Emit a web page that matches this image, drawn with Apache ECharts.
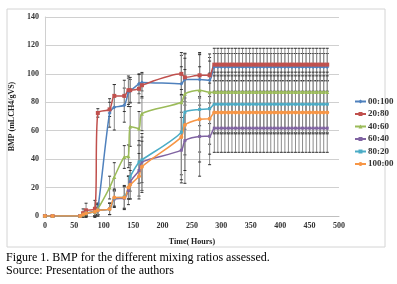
<!DOCTYPE html>
<html>
<head>
<meta charset="utf-8">
<script src="https://cdn.jsdelivr.net/npm/echarts@6/dist/echarts.min.js"></script>
<style>
html, body { margin: 0; padding: 0; background: #fff; }
#bmp_chart { width: 397px; height: 284px; }
</style>
</head>
<body>
<div id="bmp_chart"></div>
<script>
// Measurement times (hours)
var hours = [0, 13, 60, 65, 70, 85, 90, 110, 118, 135, 142, 145, 160, 165, 232, 238, 263, 280,
    288, 294, 300, 306, 312, 318, 324, 330, 336, 342, 348, 354, 360, 366, 372, 378, 384, 390,
    396, 402, 408, 414, 420, 426, 432, 438, 444, 450, 456, 462, 468, 474, 480];

var ratios = ['00:100', '20:80', '40:60', '60:40', '80:20', '100:00'];

// BMP (mL CH4 / g VS)
var bmp_00_100 = [0, 0, 0, 1, 2, 3, 5, 72.5, 76.5, 78, 87, 88, 93, 94, 93, 96, 96, 95.5,
    104.8, 104.8, 104.8, 104.8, 104.8, 104.8, 104.8, 104.8, 104.8, 104.8, 104.8, 104.8, 104.8, 104.8, 104.8, 104.8, 104.8,
    104.8, 104.8, 104.8, 104.8, 104.8, 104.8, 104.8, 104.8, 104.8, 104.8, 104.8, 104.8, 104.8, 104.8, 104.8, 104.8];
var bmp_20_80 = [0, 0, 0, 2, 4, 5, 72.5, 75, 84.5, 84.5, 88.5, 88.5, 89.5, 92, 100, 97.5, 99, 99,
    106.5, 106.5, 106.5, 106.5, 106.5, 106.5, 106.5, 106.5, 106.5, 106.5, 106.5, 106.5, 106.5, 106.5, 106.5, 106.5, 106.5,
    106.5, 106.5, 106.5, 106.5, 106.5, 106.5, 106.5, 106.5, 106.5, 106.5, 106.5, 106.5, 106.5, 106.5, 106.5, 106.5];
var bmp_40_60 = [0, 0, 0, 1, 2, 3, 5, 20, 27.5, 41.5, 42, 63, 61.5, 72, 80, 86, 88.5, 87,
    87.2, 87.2, 87.2, 87.2, 87.2, 87.2, 87.2, 87.2, 87.2, 87.2, 87.2, 87.2, 87.2, 87.2, 87.2, 87.2, 87.2,
    87.2, 87.2, 87.2, 87.2, 87.2, 87.2, 87.2, 87.2, 87.2, 87.2, 87.2, 87.2, 87.2, 87.2, 87.2, 87.2];
var bmp_60_40 = [0, 0, 0, 1, 2, 3, 4, 5, 12, 12.5, 18, 24, 32, 38, 46.3, 53, 56, 56.1,
    61.8, 61.8, 61.8, 61.8, 61.8, 61.8, 61.8, 61.8, 61.8, 61.8, 61.8, 61.8, 61.8, 61.8, 61.8, 61.8, 61.8,
    61.8, 61.8, 61.8, 61.8, 61.8, 61.8, 61.8, 61.8, 61.8, 61.8, 61.8, 61.8, 61.8, 61.8, 61.8, 61.8];
var bmp_80_20 = [0, 0, 0, 1, 2, 3, 4, 5, 12.5, 13.5, 20, 27.5, 38, 39.5, 59, 73, 75, 75.5,
    78.6, 78.6, 78.6, 78.6, 78.6, 78.6, 78.6, 78.6, 78.6, 78.6, 78.6, 78.6, 78.6, 78.6, 78.6, 78.6, 78.6,
    78.6, 78.6, 78.6, 78.6, 78.6, 78.6, 78.6, 78.6, 78.6, 78.6, 78.6, 78.6, 78.6, 78.6, 78.6, 78.6];
var bmp_100_00 = [0, 0, 0, 1, 2, 3, 4, 5, 13, 13, 20, 22, 28, 34.6, 55.5, 64, 68, 68.5,
    72.8, 72.8, 72.8, 72.8, 72.8, 72.8, 72.8, 72.8, 72.8, 72.8, 72.8, 72.8, 72.8, 72.8, 72.8, 72.8, 72.8,
    72.8, 72.8, 72.8, 72.8, 72.8, 72.8, 72.8, 72.8, 72.8, 72.8, 72.8, 72.8, 72.8, 72.8, 72.8, 72.8];

// Error bar half-widths for the first 18 points, then the plateau value
var err_00_100 = [0, 0, 0, 1, 2, 3, 4, 10, 16, 12, 10, 8, 7, 6, 20, 18, 18, 16];
var err_20_80 = [0, 0, 0, 3, 5, 6, 3, 5, 8, 11, 10, 9, 10, 9, 15, 17, 16, 15];
var err_40_60 = [0, 0, 0, 1, 2, 3, 4, 8, 10, 8, 8, 14, 12, 12, 25, 25, 25, 22];
var err_60_40 = [0, 0, 0, 1, 2, 3, 3, 4, 6, 8, 10, 12, 18, 20, 23, 30, 28, 20];
var err_80_20 = [0, 0, 0, 1, 2, 3, 4, 4, 6, 8, 8, 10, 15, 16, 30, 30, 30, 25];
var err_100_00 = [0, 0, 0, 1, 2, 3, 4, 4, 6, 8, 8, 10, 16, 18, 30, 32, 30, 25];
var plateauErr = [9.5, 11.5, 14, 17, 20, 15];

var yTicks = { min: 0, max: 140, interval: 20 };
var xTicks = { min: 0, max: 500, interval: 50 };

var bmp_element = document.getElementById('bmp_chart');

if (bmp_element) {

    var bmp_chart = echarts.init(bmp_element);

    var values = [bmp_00_100, bmp_20_80, bmp_40_60, bmp_60_40, bmp_80_20, bmp_100_00];
    var errors = [err_00_100, err_20_80, err_40_60, err_60_40, err_80_20, err_100_00];
    var colors = ['#4f81bd', '#c0504d', '#9bbb59', '#8064a2', '#4bacc6', '#f79646'];
    var symbols = ['diamond', 'rect', 'triangle', 'rect', 'rect', 'circle'];
    var symbolSizes = [4, 4, 4, 3, 3, 4];

    var font = '"Liberation Serif", "Times New Roman", serif';

    // Error bars: vertical gray line with small black caps
    var renderErrorBar = function (params, api) {
        var top = api.coord([api.value(0), api.value(2)]);
        var bottom = api.coord([api.value(0), api.value(1)]);
        var cap = 1.5;
        return {
            type: 'group',
            children: [
                { type: 'line', shape: { x1: top[0], y1: top[1], x2: bottom[0], y2: bottom[1] },
                  style: { stroke: '#8c8c8c', lineWidth: 1 } },
                { type: 'line', shape: { x1: top[0] - cap, y1: top[1], x2: top[0] + cap, y2: top[1] },
                  style: { stroke: '#333', lineWidth: 1 } },
                { type: 'line', shape: { x1: bottom[0] - cap, y1: bottom[1], x2: bottom[0] + cap, y2: bottom[1] },
                  style: { stroke: '#333', lineWidth: 1 } }
            ]
        };
    };

    var series = [];

    // error bar series first (drawn underneath)
    values.forEach(function (vals, k) {
        var bars = [];
        hours.forEach(function (h, i) {
            var e = i < errors[k].length ? errors[k][i] : plateauErr[k];
            if (e > 0) {
                bars.push([h, vals[i] - e, vals[i] + e]);
            }
        });
        series.push({
            name: ratios[k] + ' err',
            type: 'custom',
            renderItem: renderErrorBar,
            encode: { x: 0, y: [1, 2] },
            data: bars,
            silent: true,
            z: 1
        });
    });

    values.forEach(function (vals, k) {
        series.push({
            name: ratios[k],
            type: 'line',
            smooth: 0.25,
            symbol: symbols[k],
            symbolSize: symbolSizes[k],
            showAllSymbol: true,
            lineStyle: { width: 1.5, color: colors[k] },
            itemStyle: { color: colors[k] },
            data: hours.map(function (h, i) { return [h, vals[i]]; }),
            z: 2
        });
    });

    bmp_chart.setOption({
        animation: false,
        color: colors,

        textStyle: {
            fontFamily: font
        },

        grid: {
            left: 39,
            right: 58,
            top: 17,
            bottom: 68
        },

        legend: {
            orient: 'vertical',
            left: 349,
            top: 92,
            itemGap: 3.5,
            itemWidth: 11,
            itemHeight: 5,
            data: ratios,
            textStyle: {
                fontFamily: font,
                fontWeight: 'bold',
                fontSize: 9,
                color: '#333',
                padding: [0, 0, 0, -3]
            }
        },

        xAxis: {
            type: 'value',
            min: xTicks.min,
            max: xTicks.max,
            interval: xTicks.interval,
            name: 'Time( Hours)',
            nameLocation: 'middle',
            nameGap: 22,
            nameTextStyle: { fontFamily: font, fontWeight: 'bold', fontSize: 8, color: '#222' },
            axisLine: { lineStyle: { color: '#bfbfbf' } },
            axisTick: { show: false },
            splitLine: { show: false },
            axisLabel: { fontFamily: font, fontWeight: 'bold', fontSize: 8, color: '#333', margin: 6 }
        },

        yAxis: {
            type: 'value',
            min: yTicks.min,
            max: yTicks.max,
            interval: yTicks.interval,
            name: 'BMP (mLCH4/gVS)',
            nameLocation: 'middle',
            nameGap: 20,
            nameTextStyle: { fontFamily: font, fontWeight: 'bold', fontSize: 8, color: '#222' },
            axisLine: { show: true, lineStyle: { color: '#d0d0d0' } },
            axisTick: { show: false },
            splitLine: { lineStyle: { color: '#d0d0d0' } },
            axisLabel: { fontFamily: font, fontWeight: 'bold', fontSize: 8, color: '#333', margin: 6 }
        },

        graphic: [
            {
                type: 'rect',
                shape: { x: 7, y: 9, width: 378, height: 238 },
                style: { fill: 'none', stroke: '#d4d4d4', lineWidth: 1 },
                silent: true
            },
            {
                type: 'text',
                left: 6,
                top: 252,
                style: { text: 'Figure 1. BMP for the different mixing ratios assessed.',
                         fontFamily: font, fontSize: 12, fill: '#000' }
            },
            {
                type: 'text',
                left: 6,
                top: 265,
                style: { text: 'Source: Presentation of the authors',
                         fontFamily: font, fontSize: 12, fill: '#000' }
            }
        ],

        series: series
    });
}
</script>
</body>
</html>
